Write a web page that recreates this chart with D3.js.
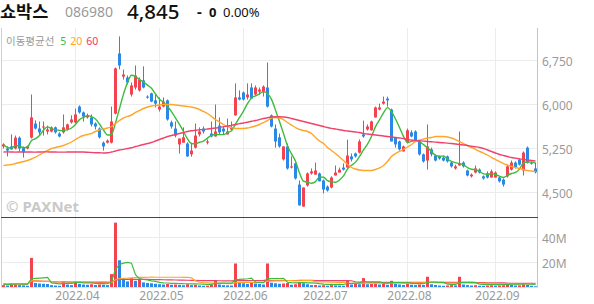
<!DOCTYPE html>
<html>
<head>
<meta charset="utf-8">
<script src="https://cdn.jsdelivr.net/npm/d3@7"></script>
<style>
    body { margin: 0; background: #fff; }
    #chart { width: 594px; height: 304px; }
    text { font-family: 'Noto Sans', 'Noto Sans CJK KR', sans-serif; }
</style>
</head>
<body>
<div id="chart"></div>
<script>
// trading days shown, per month (2022)
const marDays = [7,8,10,11,14,15,16,17,18,21,22,23,24,25,28,29,30,31];
const aprDays = [1,4,5,6,7,8,11,12,13,14,15,18,19,20,21,22,25,26,27,28,29];
const mayDays = [2,3,4,6,9,10,11,12,13,16,17,18,19,20,23,24,25,26,27,30,31];
const junDays = [2,3,7,8,9,10,13,14,15,16,17,20,21,22,23,24,27,28,29,30];
const julDays = [1,4,5,6,7,8,11,12,13,14,15,18,19,20,21,22,25,26,27,28,29];
const augDays = [1,2,3,4,5,8,9,10,11,12,16,17,18,19,22,23,24,25,26,29,30,31];
const sepDays = [1,2,5,6,7,8,13,14,15,16,19];
const monthLabels = ['2022.04', '2022.05', '2022.06', '2022.07', '2022.08', '2022.09'];

const opens = [
    5285,5250,5285,5250,5435,5265,5250,5435,5675,5590,
    5610,5540,5540,5610,5505,5525,5575,5695,5695,5965,
    5865,5780,5780,5675,5590,5350,5350,5350,5845,6870,
    6475,6460,6170,6290,6240,6410,6135,6190,6070,5915,
    5965,6070,5695,5590,5320,5350,5335,5150,5265,5490,
    5590,5350,5505,5455,5640,5590,5490,5575,5815,6120,
    6205,6120,6290,6170,6220,6205,6290,5815,5590,5440,
    5065,5285,4925,4995,4635,4260,4620,4825,4805,4825,
    4705,4600,4585,4790,4840,4925,4925,5115,5165,5180,
    5490,5575,5560,5780,5915,6015,6100,5915,5440,5370,
    5200,5350,5525,5540,5370,5150,5045,5235,5130,5115,
    5095,5115,5010,4910,4960,5010,4875,4775,4840,4890,
    4775,4825,4755,4755,4755,4720,4775,4890,5010,5060,
    4875,5265,5010,4910
];
const highs = [
    5340,5285,5490,5470,5455,5285,5300,6170,5730,5710,
    5710,5640,5625,5625,5525,5830,5675,5815,5930,5985,
    5880,5845,5830,5695,5610,5370,5405,5965,6630,7160,
    6595,6495,6375,6665,6460,6650,6155,6200,6170,6120,
    6120,6085,5725,5710,5420,5610,5355,5350,5675,5610,
    5625,5405,5710,6000,5780,5625,5760,5710,6360,6240,
    6220,6360,6360,6325,6290,6325,6715,5830,5660,5505,
    5285,5335,5115,5010,4705,4585,4840,4910,5010,4840,
    4720,4620,4775,4960,4925,4995,5400,5165,5180,5405,
    5725,5660,5725,5965,6015,6135,6135,5930,5440,5385,
    5300,5590,5560,5560,5385,5165,5660,5265,5150,5130,
    5115,5130,5030,4975,5540,5030,4890,4825,4960,4910,
    4790,4860,4890,4860,4775,4740,4960,5045,5030,5080,
    5200,5285,5030,5010
];
const lows = [
    5250,5115,5230,5235,5200,5095,5235,5420,5575,5470,
    5470,5490,5525,5505,5440,5505,5555,5675,5680,5845,
    5710,5760,5625,5575,5420,5215,5335,5335,5830,6600,
    6425,6340,6135,6255,6220,6275,6100,6040,5950,5880,
    5950,5725,5590,5440,5165,5350,5110,5110,5250,5455,
    5505,5320,5440,5455,5490,5490,5490,5555,5810,6070,
    6070,6085,6100,6150,6170,6135,5950,5610,5265,5265,
    5045,4890,4910,4720,4280,4260,4600,4805,4805,4690,
    4485,4515,4570,4790,4840,4875,4925,5030,5095,5165,
    5435,5555,5555,5775,5900,6000,5965,5370,5265,5215,
    5200,5335,5440,5370,5130,5010,4890,5115,5030,5060,
    5030,5010,4925,4890,4960,4925,4775,4755,4825,4825,
    4720,4740,4755,4755,4670,4600,4755,4875,4910,4960,
    4790,4995,4975,4825
];
const closes = [
    5320,5215,5235,5435,5250,5180,5285,5780,5590,5525,
    5625,5575,5610,5525,5455,5610,5660,5745,5830,5865,
    5795,5815,5660,5625,5440,5285,5385,5710,6615,6665,
    6510,6375,6325,6495,6425,6290,6120,6050,6015,5965,
    6050,5745,5625,5470,5420,5440,5115,5215,5470,5540,
    5540,5370,5455,5540,5525,5540,5540,5610,6120,6085,
    6085,6170,6100,6290,6255,6305,5965,5625,5370,5285,
    5285,4910,4945,4740,4280,4585,4825,4860,4875,4690,
    4550,4535,4755,4840,4890,4890,5130,5065,5115,5370,
    5455,5625,5710,5950,5950,6050,6070,5370,5320,5235,
    5285,5560,5455,5385,5150,5030,5285,5150,5045,5080,
    5045,5030,4945,4945,4995,4945,4790,4805,4910,4840,
    4740,4755,4860,4840,4690,4635,4945,5010,4925,4975,
    5180,5010,4995,4845
];
// 20 and 60 day averages as drawn (they reach back before the first day shown)
const ma20 = [
    4960,4969,4977,4994,5011,5028,5045,5071,5105,5139,
    5182,5216,5250,5267,5284,5301,5327,5361,5403,5446,
    5472,5489,5506,5540,5565,5582,5599,5625,5676,5727,
    5770,5796,5821,5864,5898,5932,5957,5974,5983,5991,
    6000,6000,6000,5991,5983,5974,5966,5957,5940,5915,
    5881,5847,5796,5744,5702,5659,5625,5608,5591,5591,
    5591,5599,5616,5633,5659,5693,5727,5770,5778,5770,
    5744,5693,5650,5608,5574,5557,5540,5506,5437,5378,
    5335,5267,5216,5165,5105,5045,4977,4926,4901,4883,
    4875,4875,4875,4892,4918,4960,5028,5114,5165,5199,
    5233,5276,5318,5369,5395,5412,5429,5437,5454,5454,
    5454,5446,5429,5403,5369,5335,5301,5267,5233,5199,
    5173,5139,5097,5062,5028,4994,4969,4943,4926,4909,
    4892,4875,4866,4858
];
const ma60 = [
    5190,5192,5190,5188,5190,5192,5190,5190,5188,5190,
    5192,5192,5190,5190,5188,5188,5190,5190,5190,5190,
    5190,5185,5182,5178,5177,5173,5177,5190,5207,5224,
    5236,5250,5262,5284,5301,5318,5335,5352,5378,5403,
    5429,5454,5472,5489,5506,5523,5540,5552,5560,5569,
    5574,5582,5591,5599,5608,5620,5633,5645,5659,5673,
    5685,5698,5714,5727,5744,5761,5775,5787,5792,5792,
    5787,5778,5761,5744,5727,5710,5693,5676,5659,5642,
    5625,5608,5594,5582,5570,5557,5548,5540,5531,5523,
    5506,5497,5489,5480,5472,5463,5454,5446,5437,5429,
    5420,5403,5395,5386,5381,5376,5369,5364,5359,5352,
    5347,5342,5335,5327,5318,5310,5301,5289,5279,5267,
    5250,5224,5199,5173,5148,5131,5114,5097,5085,5074,
    5062,5054,5045,5037
];
// volume, millions of shares
const volumes = [
    1.5,1.2,1.8,2.0,1.5,1.3,1.0,23.5,3.2,2.8,
    2.6,2.4,1.5,1.2,1.0,4.8,2.0,1.5,4.3,2.5,
    2.0,1.8,2.2,1.6,2.0,1.8,1.5,10.4,52.0,21.6,
    7.0,4.5,7.2,5.0,5.9,3.7,3.2,3.0,2.6,2.2,
    2.0,2.4,1.8,2.0,1.6,1.4,2.2,1.5,1.8,1.2,
    1.0,1.1,1.6,5.6,2.0,1.5,1.3,1.2,19.0,3.6,
    3.0,2.5,4.0,2.8,2.4,2.0,19.0,3.5,3.0,2.6,
    2.8,3.2,1.8,2.2,3.5,3.0,2.2,1.5,1.6,1.2,
    1.4,1.0,1.5,1.3,1.2,1.0,5.0,2.0,2.6,2.2,
    7.2,2.2,2.5,2.8,2.0,2.4,1.8,5.0,2.5,2.0,
    1.6,2.4,1.8,1.5,2.0,1.6,8.3,2.2,1.6,1.2,
    1.0,1.2,1.5,1.3,8.3,2.0,1.5,1.2,1.4,1.0,
    0.9,1.1,1.3,1.0,1.2,1.4,2.0,1.6,1.2,1.3,
    2.2,1.8,1.0,0.6
];
const priceTicks = [4500, 5250, 6000, 6750];
const volumeTicks = [20, 40];

const UP = '#f2434f';
const DOWN = '#2a89e6';
const MA_COLORS = { 5: '#3dbb3d', 20: '#ffa52a', 60: '#f0436b' };

function movingAvg(arr, n) {
    return arr.map((_, i) => d3.mean(arr.slice(Math.max(0, i - n + 1), i + 1)));
}

class StockChart {
    constructor(containerId) {
        this.containerId = containerId;
        this.width = 594;
        this.height = 304;
        this.plot = { left: 1, right: 537, top: 28, priceBottom: 217, volumeBottom: 287 };
        this.svg = null;
    }

    init() {
        const months = [[3, marDays], [4, aprDays], [5, mayDays], [6, junDays], [7, julDays], [8, augDays], [9, sepDays]];
        this.dates = months.flatMap(([m, days]) =>
            days.map(d => `2022-${String(m).padStart(2, '0')}-${String(d).padStart(2, '0')}`));
        this.data = this.dates.map((date, i) => ({
            date, i,
            open: opens[i], high: highs[i], low: lows[i], close: closes[i],
            volume: volumes[i], ma20: ma20[i], ma60: ma60[i]
        }));
        const ma5 = movingAvg(closes, 5);
        this.data.forEach((d, i) => { d.ma5 = ma5[i]; });
        this.setupSVG();
        this.drawGrid();
        this.drawCandles();
        this.drawVolume();
        this.drawAxes();
        this.drawHeader();
    }

    setupSVG() {
        const container = d3.select(`#${this.containerId}`);
        container.selectAll('*').remove();
        this.svg = container.append('svg')
            .attr('width', this.width)
            .attr('height', this.height);

        const p = this.plot;
        this.xScale = d3.scaleBand()
            .domain(this.dates)
            .range([p.left, p.right])
            .padding(0);
        this.yScale = d3.scaleLinear()
            .domain([4500, 6750])
            .range([192.5, 60.5]);
        this.vScale = d3.scaleLinear()
            .domain([0, 40])
            .range([p.volumeBottom, 237.5]);

        const defs = this.svg.append('defs');
        defs.append('clipPath').attr('id', 'price-clip')
            .append('rect')
            .attr('x', p.left).attr('y', p.top)
            .attr('width', p.right - p.left).attr('height', p.priceBottom - p.top);
        defs.append('clipPath').attr('id', 'vol-clip')
            .append('rect')
            .attr('x', p.left).attr('y', p.priceBottom + 1)
            .attr('width', p.right - p.left).attr('height', p.volumeBottom - p.priceBottom - 1);
    }

    cx(d) {
        return this.xScale(d) + 2.5;
    }

    drawGrid() {
        const p = this.plot;
        const g = this.svg.append('g').attr('class', 'grid');
        this.monthStarts = monthLabels.map(lbl => {
            const key = '2022-' + lbl.slice(5);
            return this.dates.find(d => d.startsWith(key));
        });

        g.selectAll('.vgrid')
            .data(this.monthStarts)
            .enter()
            .append('line')
            .attr('x1', d => Math.floor(this.cx(d)) + 0.5)
            .attr('x2', d => Math.floor(this.cx(d)) + 0.5)
            .attr('y1', p.top)
            .attr('y2', p.volumeBottom)
            .attr('stroke', '#ececec');

        g.selectAll('.hgrid')
            .data(priceTicks)
            .enter()
            .append('line')
            .attr('x1', p.left)
            .attr('x2', p.right)
            .attr('y1', d => Math.floor(this.yScale(d)) + 0.5)
            .attr('y2', d => Math.floor(this.yScale(d)) + 0.5)
            .attr('stroke', '#ececec');

        g.selectAll('.vhgrid')
            .data(volumeTicks)
            .enter()
            .append('line')
            .attr('x1', p.left)
            .attr('x2', p.right)
            .attr('y1', d => Math.floor(this.vScale(d)) + 0.5)
            .attr('y2', d => Math.floor(this.vScale(d)) + 0.5)
            .attr('stroke', '#ececec');

        // watermark
        this.svg.append('text')
            .attr('x', 6)
            .attr('y', 212)
            .attr('font-family', "'Liberation Sans', Arial, sans-serif")
            .attr('font-size', '15px')
            .attr('font-weight', 'bold')
            .attr('fill', '#c9c9c9')
            .text('© PAXNet');
    }

    candleColor(d) {
        if (d.close > d.open) return UP;
        if (d.close < d.open) return DOWN;
        const prev = d.i > 0 ? closes[d.i - 1] : d.close;
        return d.close >= prev ? UP : DOWN;
    }

    drawCandles() {
        const g = this.svg.append('g').attr('clip-path', 'url(#price-clip)');

        g.selectAll('.wick')
            .data(this.data)
            .enter()
            .append('line')
            .attr('class', 'wick')
            .attr('x1', d => this.cx(d.date))
            .attr('x2', d => this.cx(d.date))
            .attr('y1', d => this.yScale(d.high))
            .attr('y2', d => this.yScale(d.low))
            .attr('stroke', d => this.candleColor(d))
            .attr('stroke-width', 1);

        g.selectAll('.body')
            .data(this.data)
            .enter()
            .append('rect')
            .attr('class', 'body')
            .attr('x', d => this.xScale(d.date) + 1)
            .attr('width', 3)
            .attr('y', d => this.yScale(Math.max(d.open, d.close)))
            .attr('height', d => Math.max(1, Math.abs(this.yScale(d.open) - this.yScale(d.close))))
            .attr('fill', d => this.candleColor(d));

        [5, 20, 60].forEach(n => {
            const line = d3.line()
                .x(d => this.cx(d.date))
                .y(d => this.yScale(d['ma' + n]))
                .curve(d3.curveMonotoneX);
            g.append('path')
                .datum(this.data)
                .attr('fill', 'none')
                .attr('stroke', MA_COLORS[n])
                .attr('stroke-width', 1.4)
                .attr('d', line);
        });
    }

    drawVolume() {
        const g = this.svg.append('g').attr('clip-path', 'url(#vol-clip)');
        const p = this.plot;

        g.selectAll('.vol')
            .data(this.data)
            .enter()
            .append('rect')
            .attr('class', 'vol')
            .attr('x', d => this.xScale(d.date) + 1)
            .attr('width', 3)
            .attr('y', d => this.vScale(d.volume))
            .attr('height', d => p.volumeBottom - this.vScale(d.volume))
            .attr('fill', d => {
                const prev = d.i > 0 ? volumes[d.i - 1] : 0;
                return d.volume > prev ? UP : DOWN;
            });

        [60, 20, 5].forEach(n => {
            const avg = movingAvg(volumes, n);
            const line = d3.line()
                .x((d, i) => this.cx(this.dates[i]))
                .y(d => this.vScale(d) - 1);
            g.append('path')
                .datum(avg)
                .attr('fill', 'none')
                .attr('stroke', MA_COLORS[n])
                .attr('stroke-width', 1.2)
                .attr('d', line);
        });
    }

    drawAxes() {
        const p = this.plot;

        // frame
        this.svg.append('line')
            .attr('x1', p.left + 0.5).attr('x2', p.left + 0.5)
            .attr('y1', p.top).attr('y2', p.volumeBottom)
            .attr('stroke', '#cfcfcf');
        this.svg.append('line')
            .attr('x1', p.right + 0.5).attr('x2', p.right + 0.5)
            .attr('y1', p.top).attr('y2', p.volumeBottom + 1)
            .attr('stroke', '#c4c4c4');
        this.svg.append('line')
            .attr('x1', p.left).attr('x2', p.right + 1)
            .attr('y1', p.priceBottom + 0.5).attr('y2', p.priceBottom + 0.5)
            .attr('stroke', '#444');
        this.svg.append('line')
            .attr('x1', p.left).attr('x2', p.right + 1)
            .attr('y1', p.volumeBottom + 0.5).attr('y2', p.volumeBottom + 0.5)
            .attr('stroke', '#e2e2e2');

        const priceAxis = this.svg.append('g')
            .attr('transform', `translate(${p.right + 1},1)`)
            .call(d3.axisRight(this.yScale).tickValues(priceTicks).tickSize(0).tickPadding(4)
                .tickFormat(d3.format(',')));
        const volAxis = this.svg.append('g')
            .attr('transform', `translate(${p.right + 1},1)`)
            .call(d3.axisRight(this.vScale).tickValues(volumeTicks).tickSize(0).tickPadding(4)
                .tickFormat(d => d + 'M'));
        const xAxis = this.svg.append('g')
            .attr('transform', `translate(2.5,${p.volumeBottom})`)
            .call(d3.axisBottom(this.xScale).tickValues(this.monthStarts).tickSize(0).tickPadding(4)
                .tickFormat(d => d.slice(0, 7).replace('-', '.')));

        [priceAxis, volAxis, xAxis].forEach(ax => {
            ax.select('.domain').remove();
            ax.selectAll('text')
                .attr('fill', '#9a9a9a')
                .style('font-size', '12px')
                .style('font-family', "'Noto Sans', sans-serif");
        });

        // legend
        const legend = this.svg.append('text')
            .attr('x', 6)
            .attr('y', 45)
            .style('font-size', '10.5px');
        legend.append('tspan').attr('fill', '#999').text('이동평균선');
        legend.append('tspan').attr('dx', 6).attr('fill', MA_COLORS[5]).text('5');
        legend.append('tspan').attr('dx', 4).attr('fill', MA_COLORS[20]).text('20');
        legend.append('tspan').attr('dx', 4).attr('fill', '#f2355f').text('60');
    }

    drawHeader() {
        const cjk = "'Noto Sans CJK KR', 'Noto Sans', sans-serif";
        const t = (x, y, size, weight, fill, str, family) => this.svg.append('text')
            .attr('x', x).attr('y', y)
            .style('font-family', family || cjk)
            .style('font-size', size + 'px')
            .style('font-weight', weight)
            .attr('fill', fill)
            .text(str);
        t(0, 18, 17.5, 700, '#111', '쇼박스');
        t(65, 17, 14, 400, '#9a9a9a', '086980', "'Noto Sans', sans-serif");
        t(127, 19, 20.5, 500, '#111', '4,845', "'Noto Sans', sans-serif");
        t(197, 17, 15, 700, '#111', '-', "'Noto Sans', sans-serif");
        t(209, 17, 13, 700, '#111', '0', "'Noto Sans', sans-serif");
        t(223, 17, 13, 400, '#111', '0.00%', "'Noto Sans', sans-serif");
    }
}

const chart = new StockChart('chart');
chart.init();
</script>
</body>
</html>
